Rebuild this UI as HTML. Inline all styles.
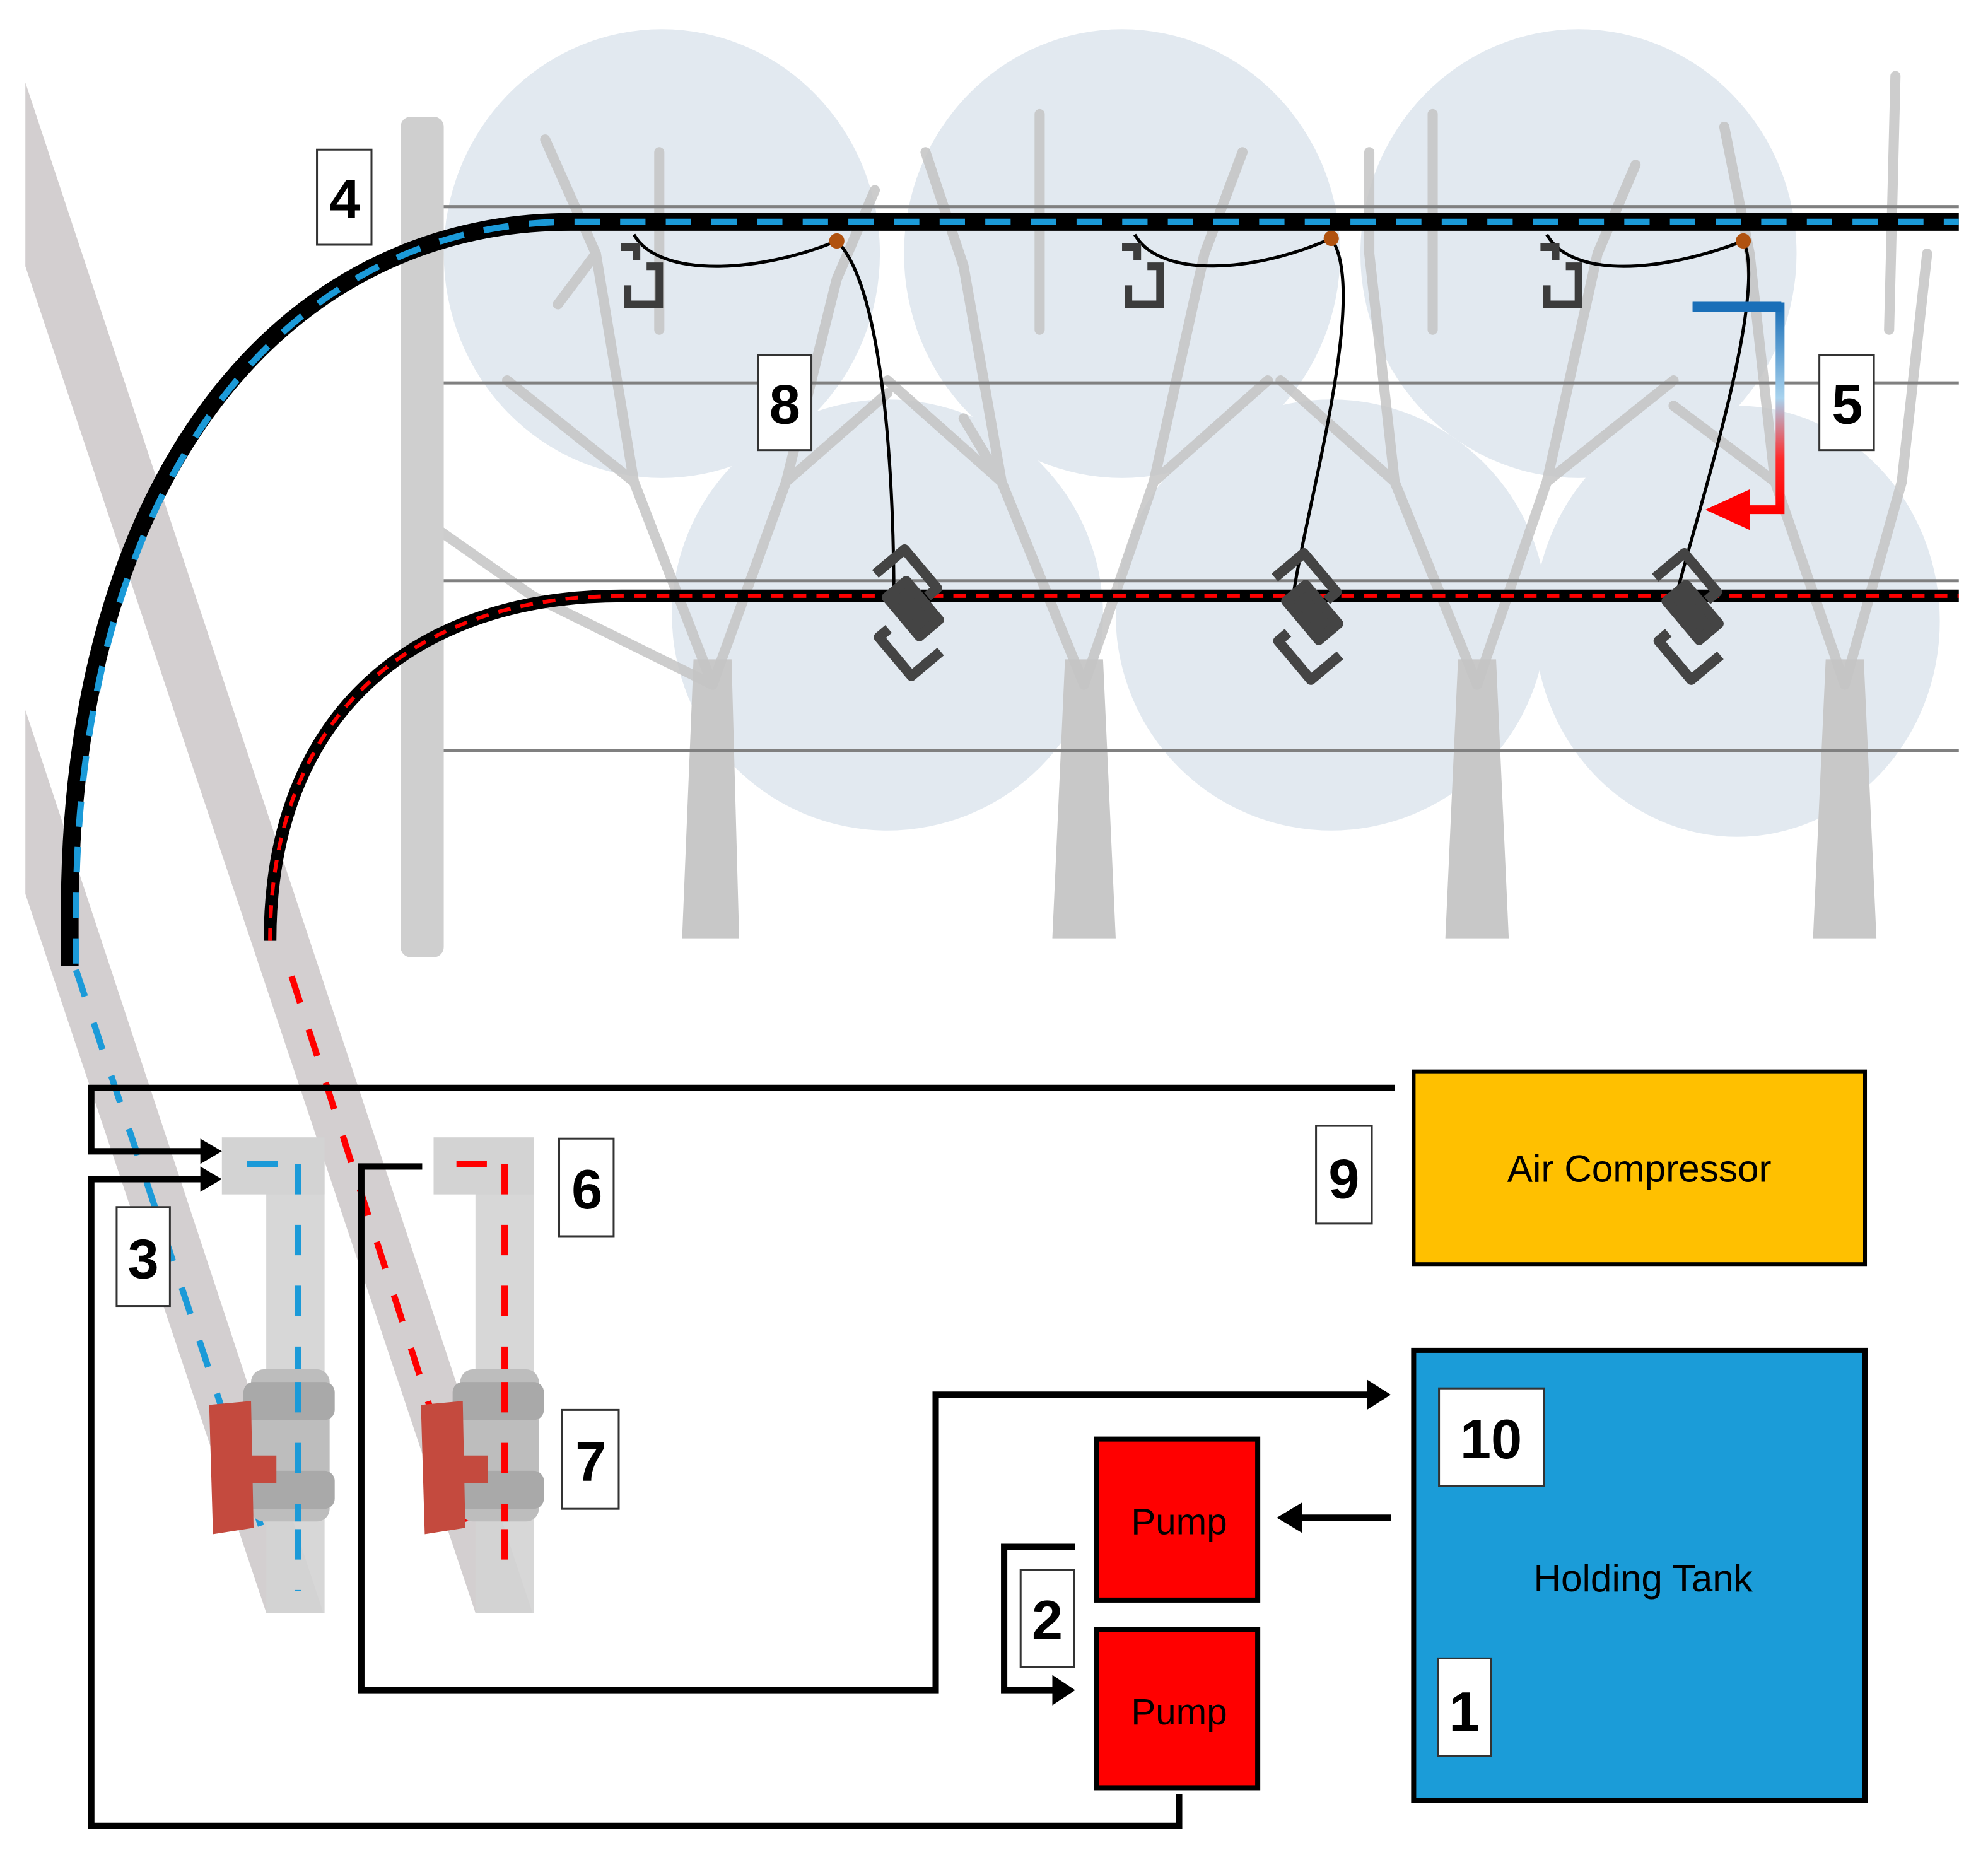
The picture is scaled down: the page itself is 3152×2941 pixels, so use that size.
<!DOCTYPE html>
<html><head><meta charset="utf-8"><style>
html,body{margin:0;padding:0;background:#fff}
svg{display:block}
text{font-family:"Liberation Sans",sans-serif}
</style></head><body>
<svg width="3152" height="2941" viewBox="0 0 1568 1463" xmlns="http://www.w3.org/2000/svg">
<defs>
<linearGradient id="g5" x1="0" y1="0" x2="0" y2="1">
<stop offset="0" stop-color="#1a6fb8"/><stop offset="0.45" stop-color="#a9d3ee"/><stop offset="0.75" stop-color="#ff2a2a"/><stop offset="1" stop-color="#ff0000"/>
</linearGradient>
</defs>
<rect width="1568" height="1463" fill="#fff"/>
<!-- canopies -->
<g fill="#e2e9f0">
<ellipse cx="522" cy="200" rx="172" ry="177"/>
<ellipse cx="885" cy="200" rx="172" ry="177"/>
<ellipse cx="1245" cy="200" rx="172" ry="177"/>
<ellipse cx="700" cy="485" rx="170" ry="170"/>
<ellipse cx="1050" cy="485" rx="170" ry="170"/>
<ellipse cx="1370" cy="490" rx="160" ry="170"/>
</g>
<!-- tree trunks/branches -->
<g fill="#c8c8c8">
<polygon points="547,520 577,520 583,740 538,740"/>
<polygon points="840,520 870,520 880,740 830,740"/>
<polygon points="1150,520 1180,520 1190,740 1140,740"/>
<polygon points="1440,520 1470,520 1480,740 1430,740"/>
</g>
<g stroke="#c4c4c4" fill="none" stroke-linecap="round" opacity="0.85" stroke-width="8">
<path d="M562 540 L500 380 L470 200 M562 540 L620 380 L660 220 M500 380 L400 300 M620 380 L700 310 M520 260 L520 120 M470 200 L430 110 M562 540 L420 470 L320 400 M470 200 L440 240 M660 220 L690 150 M620 380 L640 300"/>
<path d="M855 540 L790 380 L760 210 M855 540 L910 380 L950 200 M790 380 L700 300 M910 380 L1000 300 M820 260 L820 90 M760 210 L730 120 M950 200 L980 120 M790 380 L760 330"/>
<path d="M1165 540 L1100 380 L1080 200 M1165 540 L1220 380 L1260 200 M1100 380 L1010 300 M1220 380 L1320 300 M1130 260 L1130 90 M1080 200 L1080 120 M1260 200 L1290 130"/>
<path d="M1455 540 L1400 380 L1380 200 M1455 540 L1500 380 L1520 200 M1400 380 L1320 320 M1490 260 L1495 60 M1380 200 L1360 100"/>
</g>
<!-- wires -->
<g stroke="#808080" stroke-width="2.5">
<line x1="343" y1="163" x2="1545" y2="163"/><line x1="343" y1="302" x2="1545" y2="302"/>
<line x1="343" y1="458" x2="1545" y2="458"/><line x1="346" y1="592" x2="1545" y2="592"/>
</g>
<!-- post -->
<rect x="316" y="92" width="34" height="663" rx="8" fill="#cfcfcf"/>
<!-- diagonal bands -->
<polygon points="20,65 20,210 375,1272 420,1272" fill="#d3cfd0"/>
<polygon points="20,560 20,705 210,1272 255,1272" fill="#d3cfd0"/>
<!-- vertical stubs -->
<rect x="210" y="900" width="46" height="372" fill="#d3d3d3" opacity="0.9"/>
<rect x="175" y="897" width="81" height="45" fill="#d3d3d3"/>
<rect x="375" y="900" width="46" height="372" fill="#d3d3d3" opacity="0.9"/>
<rect x="342" y="897" width="79" height="45" fill="#d3d3d3"/>
<!-- dashed in diagonals -->
<path d="M60 765 L208 1210" stroke="#1b9ad8" stroke-width="5" stroke-dasharray="22 22"/>
<path d="M230 770 L368 1200" stroke="#ff0000" stroke-width="5" stroke-dasharray="22 22"/>
<path d="M195 918 L222 918 M235 918 L235 1255" stroke="#1b9ad8" stroke-width="5" stroke-dasharray="24 24"/>
<path d="M360 918 L385 918 M398 918 L398 1250" stroke="#ff0000" stroke-width="5" stroke-dasharray="24 24"/>
<!-- valves -->
<g>
<rect x="198" y="1080" width="62" height="120" rx="10" fill="#bdbdbd"/>
<rect x="192" y="1090" width="72" height="30" rx="8" fill="#a9a9a9"/>
<rect x="192" y="1160" width="72" height="30" rx="8" fill="#a9a9a9"/>
<polygon points="165,1108 198,1105 200,1205 168,1210" fill="#c44a3e"/>
<rect x="198" y="1148" width="20" height="22" fill="#c44a3e"/>
<rect x="363" y="1080" width="62" height="120" rx="10" fill="#bdbdbd"/>
<rect x="357" y="1090" width="72" height="30" rx="8" fill="#a9a9a9"/>
<rect x="357" y="1160" width="72" height="30" rx="8" fill="#a9a9a9"/>
<polygon points="332,1108 365,1105 367,1205 335,1210" fill="#c44a3e"/>
<rect x="365" y="1148" width="20" height="22" fill="#c44a3e"/>
<path d="M235 1090 V1200" stroke="#1b9ad8" stroke-width="5" stroke-dasharray="24 24"/>
<path d="M398 1090 V1200" stroke="#ff0000" stroke-width="5" stroke-dasharray="24 24"/>
</g>
<!-- main pipes -->
<path d="M55 762 L55 720 C55 380 220 175 450 175 L1545 175" fill="none" stroke="#000" stroke-width="14"/>
<path d="M60 760 L60 720 C60 385 222 175 450 175 L1545 175" fill="none" stroke="#1b9ad8" stroke-width="5" stroke-dasharray="20 16"/>
<path d="M213 742 C213 560 330 470 490 470 L1545 470" fill="none" stroke="#000" stroke-width="10"/>
<path d="M213 742 C213 560 330 470 490 470 L1545 470" fill="none" stroke="#ff0000" stroke-width="3" stroke-dasharray="10 8"/>
<!-- drip tubes -->
<g fill="none" stroke="#000" stroke-width="2.5">
<path d="M500 185 C520 220 600 215 660 190 C700 230 705 400 705 470"/>
<path d="M895 185 C915 220 990 215 1050 188 C1080 230 1030 400 1020 470"/>
<path d="M1220 185 C1240 220 1310 215 1375 190 C1395 230 1340 400 1322 470"/>
</g>
<g fill="#b0520f"><circle cx="660" cy="190" r="6"/><circle cx="1050" cy="188" r="6"/><circle cx="1375" cy="190" r="6"/></g>
<!-- top emitters -->
<g fill="none" stroke="#3c3c3c" stroke-width="6">
<path d="M490 195 h12 v10 M495 225 v15 h25 v-30 h-10"/>
<path d="M885 195 h12 v10 M890 225 v15 h25 v-30 h-10"/>
<path d="M1215 195 h12 v10 M1220 225 v15 h25 v-30 h-10"/>
</g>
<!-- lower sprinklers -->
<g fill="none" stroke="#444" stroke-width="8" stroke-linejoin="round">
<g transform="translate(720,480) rotate(-40)"><path d="M-5 -40 h30 v40 h-10 M-5 40 h-30 v-40 h10"/><rect x="-10" y="-20" width="20" height="40" fill="#444"/></g>
<g transform="translate(1035,483) rotate(-40)"><path d="M-5 -40 h30 v40 h-10 M-5 40 h-30 v-40 h10"/><rect x="-10" y="-20" width="20" height="40" fill="#444"/></g>
<g transform="translate(1335,483) rotate(-40)"><path d="M-5 -40 h30 v40 h-10 M-5 40 h-30 v-40 h10"/><rect x="-10" y="-20" width="20" height="40" fill="#444"/></g>
</g>
<!-- arrow 5 -->
<path d="M1335 242 H1404 V402 H1370" fill="none" stroke="url(#g5)" stroke-width="7"/>
<rect x="1335" y="238" width="70" height="8" fill="#1a6fb8"/>
<polygon points="1345,402 1380,386 1380,418" fill="#ff0000"/>
<!-- black connectors -->
<g fill="none" stroke="#000" stroke-width="5">
<path d="M1100 858 H72 V908 H160"/>
<path d="M160 930 H72 V1440 H930 V1415"/>
<path d="M333 920 H285 V1333 H738 V1100 H1080"/>
<path d="M1097 1197 H1025"/>
<path d="M848 1220 H792 V1333 H832"/>
</g>
<g fill="#000">
<polygon points="175,908 158,898 158,918"/>
<polygon points="175,930 158,920 158,940"/>
<polygon points="1097,1100 1078,1088 1078,1112"/>
<polygon points="1007,1197 1027,1185 1027,1209"/>
<polygon points="848,1333 830,1321 830,1345"/>
</g>
<!-- boxes -->
<rect x="1115" y="845" width="356" height="152" fill="#ffc000" stroke="#000" stroke-width="3"/>
<text x="1293" y="932" font-size="30" text-anchor="middle">Air Compressor</text>
<rect x="1115" y="1065" width="356" height="355" fill="#1b9cd8" stroke="#000" stroke-width="4"/>
<text x="1296" y="1255" font-size="30" text-anchor="middle">Holding Tank</text>
<rect x="865" y="1135" width="127" height="127" fill="#ff0000" stroke="#000" stroke-width="4"/>
<text x="930" y="1210" font-size="29" text-anchor="middle">Pump</text>
<rect x="865" y="1285" width="127" height="125" fill="#ff0000" stroke="#000" stroke-width="4"/>
<text x="930" y="1360" font-size="29" text-anchor="middle">Pump</text>
<!-- labels -->
<g fill="#fff" stroke="#333" stroke-width="1.5">
<rect x="250" y="118" width="43" height="75"/><rect x="598" y="280" width="42" height="75"/>
<rect x="1435" y="280" width="43" height="75"/><rect x="441" y="898" width="43" height="77"/>
<rect x="92" y="952" width="42" height="78"/><rect x="443" y="1112" width="45" height="78"/>
<rect x="1038" y="888" width="44" height="77"/><rect x="1135" y="1095" width="83" height="77"/>
<rect x="1134" y="1308" width="42" height="77"/><rect x="805" y="1238" width="42" height="77"/>
</g>
<g font-size="44" font-weight="bold" text-anchor="middle">
<text x="272" y="172">4</text><text x="619" y="334">8</text><text x="1457" y="334">5</text>
<text x="463" y="953">6</text><text x="113" y="1008">3</text><text x="466" y="1168">7</text>
<text x="1060" y="945">9</text><text x="1176" y="1150">10</text><text x="1155" y="1365">1</text>
<text x="826" y="1293">2</text>
</g>
</svg>
</body></html>
